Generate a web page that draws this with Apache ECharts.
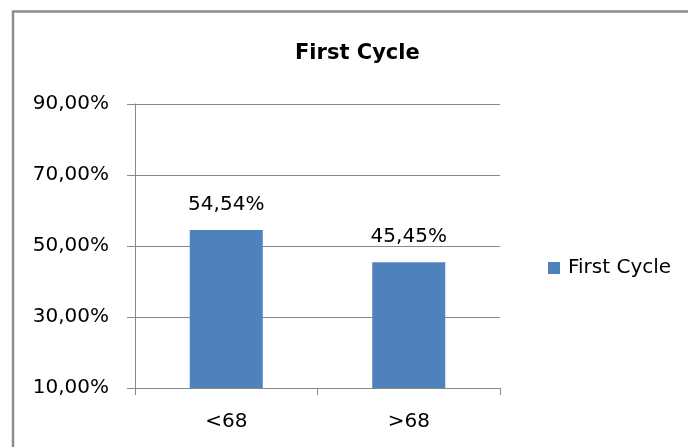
<!DOCTYPE html>
<html>
<head>
<meta charset="utf-8">
<script src="https://cdn.jsdelivr.net/npm/echarts@6/dist/echarts.min.js"></script>
<style>
html,body{margin:0;padding:0;background:#fff;}
#chart{width:688px;height:447px;}
</style>
</head>
<body>
<div id="chart"></div>
<script>
const categories = ['<68', '>68'];
const seriesName = 'First Cycle';
const values = [54.54, 45.45];
const chartTitle = 'First Cycle';
const yMin = 10, yMax = 90, yStep = 20;

const fmt = v => v.toFixed(2).replace('.', ',') + '%';
const FONT = 'DejaVu Sans';
const chart = echarts.init(document.getElementById('chart'), null, {renderer: 'canvas'});
chart.setOption({
  animation: false,
  backgroundColor: '#ffffff',
  title: {
    text: chartTitle,
    left: 290, top: 38,
    textStyle: {fontFamily: FONT, fontSize: 21, fontWeight: 'bold', color: '#000'}
  },
  graphic: [{
    type: 'rect', silent: true,
    shape: {x: 13, y: 11.5, width: 800, height: 600},
    style: {fill: 'none', stroke: '#8c8c8c', lineWidth: 2.5}
  }],
  legend: {
    left: 543, top: 253,
    itemWidth: 12, itemHeight: 12, icon: 'rect',
    textStyle: {fontFamily: FONT, fontSize: 20, color: '#000', padding: [0, 0, 0, 3]},
    data: [seriesName]
  },
  grid: {left: 135, right: 188, top: 104, bottom: 59, containLabel: false},
  xAxis: {
    type: 'category', data: categories,
    axisLine: {lineStyle: {color: '#888', width: 1}},
    axisTick: {show: true, length: 7, lineStyle: {color: '#888'}},
    axisLabel: {fontFamily: FONT, fontSize: 20, color: '#000', margin: 24}
  },
  yAxis: {
    type: 'value', min: yMin, max: yMax, interval: yStep,
    axisLine: {show: true, lineStyle: {color: '#888', width: 1}},
    axisTick: {show: true, length: 8, lineStyle: {color: '#888'}},
    splitLine: {lineStyle: {color: '#888', width: 1}},
    axisLabel: {fontFamily: FONT, fontSize: 20, color: '#000', margin: 26, formatter: fmt}
  },
  series: [{
    name: seriesName, type: 'bar', data: values,
    barWidth: '40%',
    itemStyle: {color: '#4F81BD'},
    label: {show: true, position: 'top', distance: 15, fontFamily: FONT, fontSize: 20, color: '#000', formatter: p => fmt(p.value)}
  }]
});
</script>
</body>
</html>
